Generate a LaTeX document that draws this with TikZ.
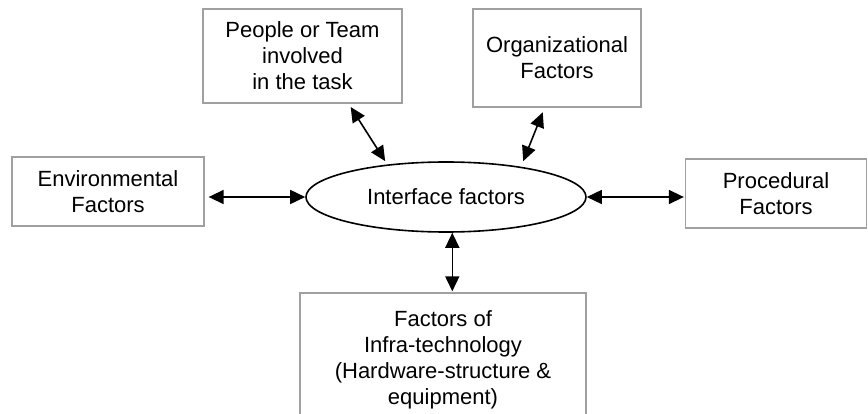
\documentclass[tikz,border=0pt]{standalone}
\usepackage{fontspec}
\setmainfont{Liberation Sans}
\usetikzlibrary{arrows.meta,positioning,calc,shapes.geometric}
\definecolor{ink}{HTML}{000000}
\definecolor{frame}{HTML}{A0A0A0}
\tikzset{
  every node/.style={font=\fontsize{22}{26}\selectfont,text=ink},
  factor/.style={draw=frame,line width=1.3pt,fill=white,align=center,inner sep=2pt},
  hub/.style={ellipse,draw=ink,line width=1.6pt,minimum width=280pt,minimum height=70pt,inner sep=0pt},
  biarrow/.style={{Triangle[length=15pt,width=14pt]}-{Triangle[length=15pt,width=14pt]},line width=1.6pt,draw=ink},
}

\begin{document}
\begin{tikzpicture}[x=1pt,y=-1pt]
  \useasboundingbox (0,0) rectangle (868,414);

  \node[hub] (ell) at (446,197) {Interface factors};
  \node[factor,minimum width=199pt,minimum height=94pt] (people) at (302.5,56) {People or Team\\involved\\in the task};
  \node[factor,minimum width=168pt,minimum height=98pt] (org) at (557,58) {Organizational\\Factors};
  \node[factor,minimum width=192pt,minimum height=69pt] (env) at (108,191.5) {Environmental\\Factors};
  \node[factor,minimum width=181pt,minimum height=69pt] (proc) at (776,193.5) {Procedural\\Factors};
  \node[factor,minimum width=286pt,minimum height=134pt] (infra) at (443,360) {Factors of\\Infra-technology\\(Hardware-structure \&\\equipment)};

  \draw[biarrow,shorten <=4pt] (env.east |- ell.west) -- (ell.west);
  \draw[biarrow,shorten >=1pt] (ell.east) -- (proc.west |- ell.east);
  \draw[biarrow,shorten <=4pt,shorten >=4pt] (people.-46) -- (ell.151);
  \draw[biarrow,shorten <=5pt,shorten >=6pt] (org.-104) -- (ell.22);
  \draw[biarrow,shorten >=1pt] (ell.-80) -- (ell.-80 |- infra.north);
\end{tikzpicture}
\end{document}
